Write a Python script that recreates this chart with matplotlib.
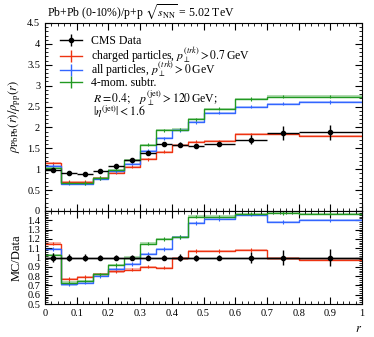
import numpy as np
import matplotlib
matplotlib.use("Agg")
import matplotlib.pyplot as plt
from matplotlib.lines import Line2D
from matplotlib.legend import Legend
from matplotlib.ticker import MultipleLocator, FuncFormatter

plt.rcParams['font.family'] = ['Liberation Serif', 'DejaVu Serif']
plt.rcParams['mathtext.fontset'] = 'stix'

# ---- data ----
edges = [0, 0.05, 0.1, 0.15, 0.2, 0.25, 0.3, 0.35, 0.4, 0.45, 0.5, 0.6, 0.7, 0.8, 1.0]
data_y = [0.98, 0.92, 0.89, 0.96, 1.08, 1.22, 1.38, 1.60, 1.59, 1.55, 1.60, 1.71, 1.87, 1.88]
data_err = [0.05, 0.03, 0.03, 0.03, 0.03, 0.03, 0.04, 0.05, 0.06, 0.05, 0.05, 0.10, 0.16, 0.17]

charged = [1.14, 0.70, 0.70, 0.79, 0.92, 1.06, 1.24, 1.42, 1.57, 1.66, 1.67, 1.84, 1.84, 1.80]
allpart = [1.08, 0.65, 0.65, 0.77, 0.95, 1.13, 1.44, 1.74, 1.94, 2.12, 2.35, 2.50, 2.57, 2.61]
fourmom = [1.02, 0.68, 0.67, 0.79, 0.99, 1.22, 1.59, 1.93, 1.95, 2.20, 2.45, 2.68, 2.74, 2.74]

ratio_charged = [1.15, 0.77, 0.79, 0.82, 0.85, 0.87, 0.90, 0.89, 0.99, 1.07, 1.07, 1.08, 0.99, 0.97]
ratio_all = [1.09, 0.71, 0.73, 0.80, 0.88, 0.93, 1.04, 1.09, 1.22, 1.37, 1.41, 1.46, 1.38, 1.40]
ratio_fourmom = [1.03, 0.73, 0.75, 0.82, 0.92, 1.00, 1.15, 1.20, 1.22, 1.44, 1.44, 1.47, 1.48, 1.47]

labels = ["CMS Data",
          r"charged particles, $p_\perp^{(trk)} > 0.7\,$GeV",
          r"all particles, $p_\perp^{(trk)} > 0\,$GeV",
          "4-mom. subtr."]
extra_labels = [r"$R = 0.4;\quad p_\perp^{(\rm jet)} > 120\,$GeV;",
                r"$|\eta^{(\rm jet)}| < 1.6$"]
colors = ['#ee3311', '#3366ff', '#229922']

edges = np.array(edges)
centers = 0.5 * (edges[:-1] + edges[1:])
halfw = 0.5 * np.diff(edges)

fig = plt.figure(figsize=(3.74, 3.37), dpi=100)
W, H = 374.0, 337.0
ax1 = fig.add_axes([45 / W, 1 - 211 / H, 317 / W, 188 / H])
ax2 = fig.add_axes([45 / W, 1 - 304 / H, 317 / W, 93 / H], sharex=ax1)


def step_hist(ax, vals, color, band):
    v = np.array(vals)
    yy = np.append(v, v[-1])
    ax.fill_between(edges, yy - band, yy + band, step='post', color=color, alpha=0.35, lw=0)
    ax.step(edges, yy, where='post', color=color, lw=1.0)
    ax.errorbar(centers, v, yerr=band * 1.5, fmt='none', ecolor=color, elinewidth=0.8)


for vals, rvals, c in zip([charged, allpart, fourmom], [ratio_charged, ratio_all, ratio_fourmom], colors):
    step_hist(ax1, vals, c, 0.025)
    step_hist(ax2, rvals, c, 0.012)

ax1.errorbar(centers, data_y, xerr=halfw, yerr=data_err, fmt='o', color='black',
             ms=3, elinewidth=1.0, capsize=0, zorder=5)
ones = np.ones_like(centers)
ax2.plot([0, 1], [1, 1], color='black', lw=1.0, zorder=5)
ax2.errorbar(centers, ones, xerr=halfw, yerr=np.array(data_err) / np.array(data_y), fmt='o',
             color='black', ms=3, elinewidth=1.0, capsize=0, zorder=5)

ax1.set_xlim(0, 1)
ax1.set_ylim(0, 4.5)
ax2.set_ylim(0.5, 1.5)

for ax in (ax1, ax2):
    ax.tick_params(direction='in', top=True, right=True, which='both', labelsize=7.5)
    ax.tick_params(which='major', length=5)
    ax.tick_params(which='minor', length=2.5)
    ax.xaxis.set_major_locator(MultipleLocator(0.1))
    ax.xaxis.set_minor_locator(MultipleLocator(0.02))

ax1.yaxis.set_major_locator(MultipleLocator(0.5))
ax1.yaxis.set_minor_locator(MultipleLocator(0.1))
ax2.yaxis.set_major_locator(MultipleLocator(0.1))
ax2.yaxis.set_minor_locator(MultipleLocator(0.02))


def fmt(v, pos):
    s = f"{v:.1f}"
    if s.endswith(".0"):
        s = s[:-2]
    return s


ax1.yaxis.set_major_formatter(FuncFormatter(fmt))
ax2.yaxis.set_major_formatter(FuncFormatter(lambda v, p: "" if v > 1.45 else fmt(v, p)))
ax2.xaxis.set_major_formatter(FuncFormatter(fmt))
plt.setp(ax1.get_xticklabels(), visible=False)

ax1.set_ylabel(r"$\rho_{\rm PbPb}(r)/\rho_{\rm pp}(r)$", fontsize=9)
ax2.set_ylabel("MC/Data", fontsize=9)
ax1.yaxis.set_label_coords(-0.07, 0.5)
ax2.yaxis.set_label_coords(-0.07, 0.5)
ax2.set_xlabel(r"$r$", fontsize=9)
ax2.xaxis.set_label_coords(1.0, -0.2)
ax2.xaxis.label.set_horizontalalignment('right')

fig.text(47 / W, 1 - 12 / H, r"Pb+Pb (0-10%)/p+p $\sqrt{s_{\rm NN}}$ = 5.02 TeV", fontsize=8.5,
         va='center', ha='left')

handles = [(Line2D([], [], color='black', lw=1.0, marker='|', ms=8),
            Line2D([], [], color='black', marker='o', ms=3, lw=0))]
for c in colors:
    handles.append(Line2D([], [], color=c, lw=1.0, marker='|', ms=8))

row_y = [41.5, 55.5, 69.5, 83.5]
x0 = (60 - 45) / 317.0
for h, lab, yp in zip(handles, labels, row_y):
    leg = Legend(ax1, [h], [lab], loc='center left', frameon=False, fontsize=8.5,
                 handlelength=1.9, handletextpad=0.7, borderpad=0, borderaxespad=0,
                 bbox_to_anchor=(x0, 1 - (yp - 23) / 188.0))
    ax1.add_artist(leg)

for lab, yp in zip(extra_labels, [98, 112]):
    ax1.text((93 - 45) / 317.0, 1 - (yp - 23) / 188.0, lab,
             transform=ax1.transAxes, fontsize=8.5, va='center', ha='left')

fig.savefig("out.png", dpi=100)
